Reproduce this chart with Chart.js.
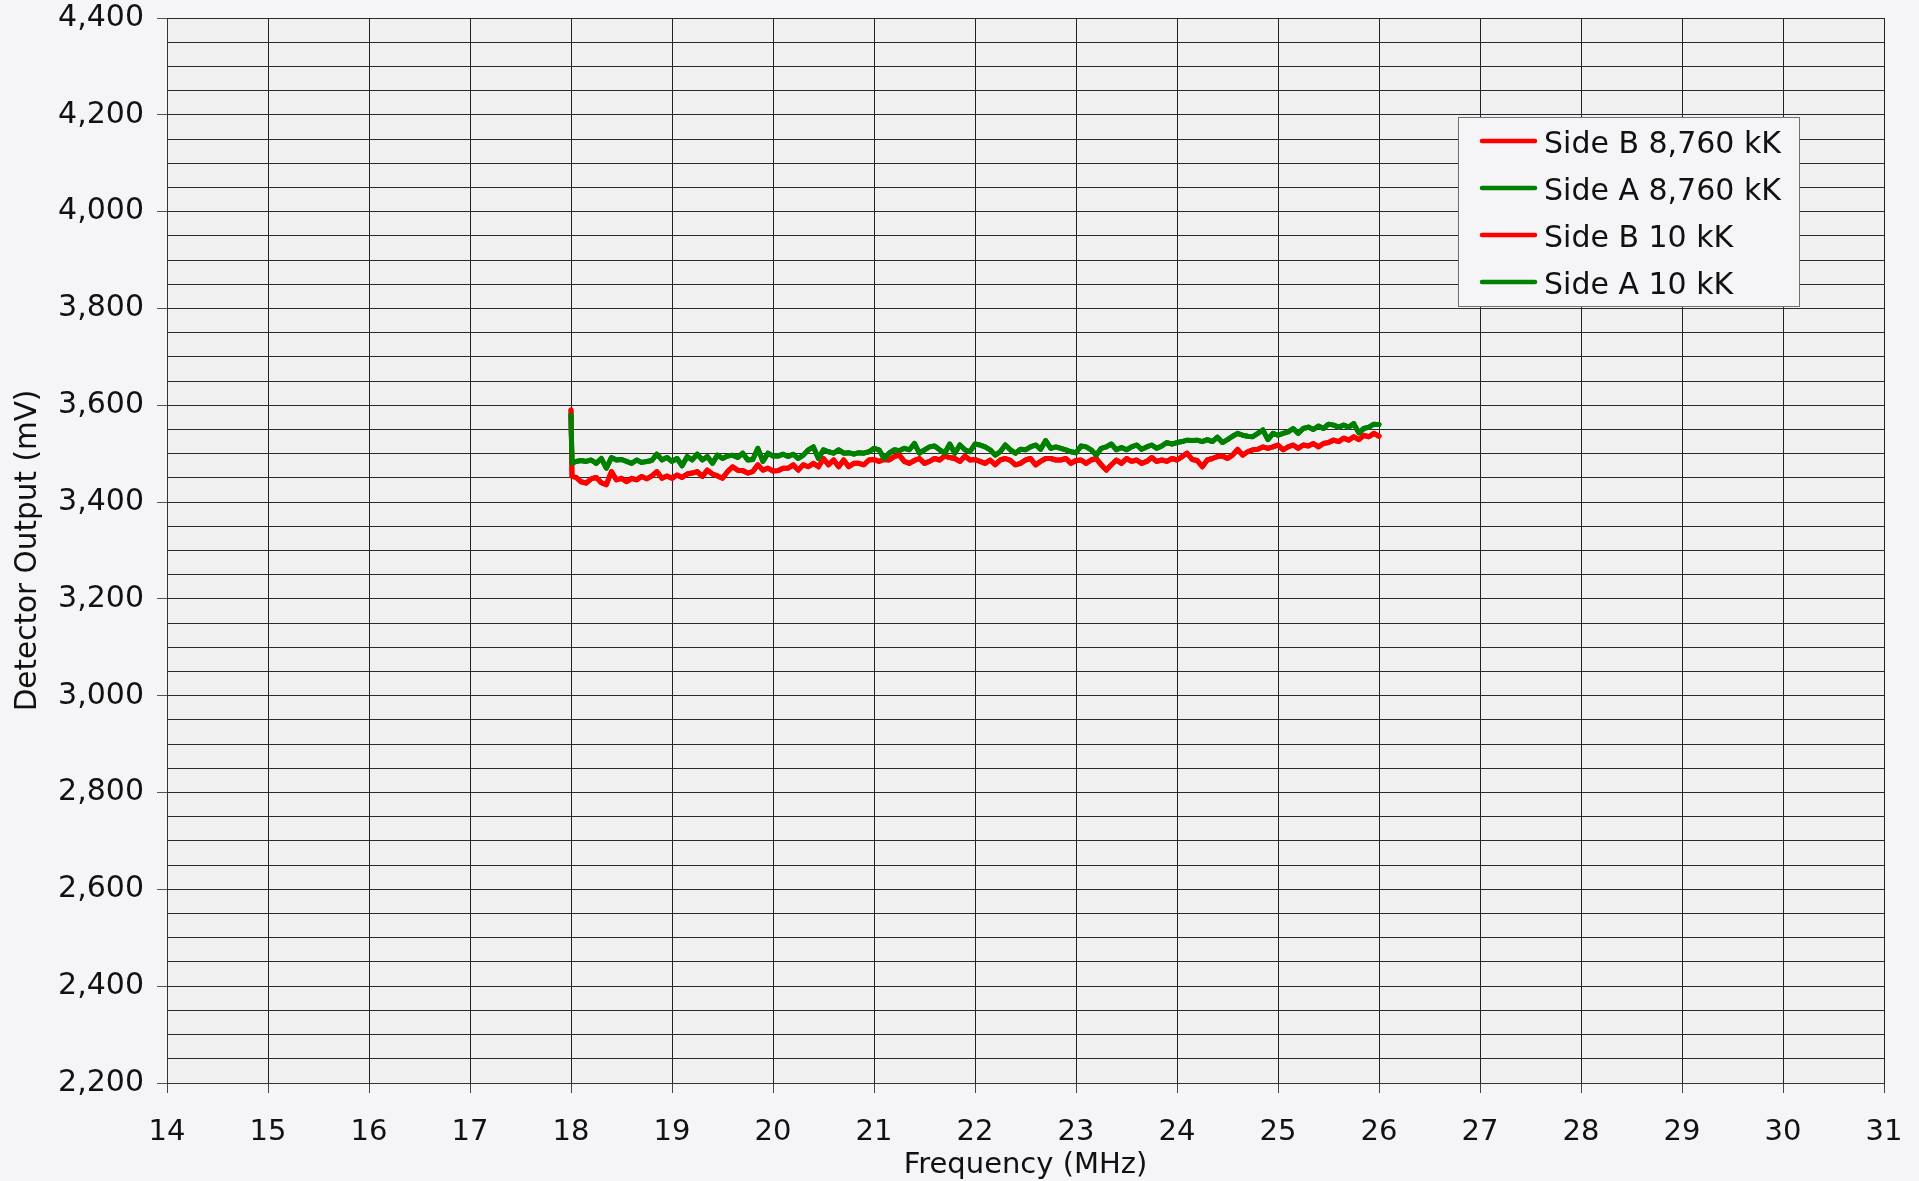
<!DOCTYPE html>
<html><head><meta charset="utf-8">
<script src="https://cdn.jsdelivr.net/npm/chart.js@4.4.1/dist/chart.umd.min.js"></script>
<style>html,body{margin:0;padding:0;background:#f5f5f7;overflow:hidden}canvas{display:block}</style>
</head><body>
<canvas id="c" width="1919" height="1181"></canvas>
<script>
// ---- data ----
const frequencyMHz = [18.00,18.01,
18.05,18.10,18.15,18.20,18.25,18.30,18.35,18.40,18.45,18.50,18.55,18.60,18.65,18.70,18.75,18.80,18.85,18.90,18.95,19.00,
19.05,19.10,19.15,19.20,19.25,19.30,19.35,19.40,19.45,19.50,19.55,19.60,19.65,19.70,19.75,19.80,19.85,19.90,19.95,20.00,
20.05,20.10,20.15,20.20,20.25,20.30,20.35,20.40,20.45,20.50,20.55,20.60,20.65,20.70,20.75,20.80,20.85,20.90,20.95,21.00,
21.05,21.10,21.15,21.20,21.25,21.30,21.35,21.40,21.45,21.50,21.55,21.60,21.65,21.70,21.75,21.80,21.85,21.90,21.95,22.00,
22.05,22.10,22.15,22.20,22.25,22.30,22.35,22.40,22.45,22.50,22.55,22.60,22.65,22.70,22.75,22.80,22.85,22.90,22.95,23.00,
23.05,23.10,23.15,23.20,23.25,23.30,23.35,23.40,23.45,23.50,23.55,23.60,23.65,23.70,23.75,23.80,23.85,23.90,23.95,24.00,
24.05,24.10,24.15,24.20,24.25,24.30,24.35,24.40,24.45,24.50,24.55,24.60,24.65,24.70,24.75,24.80,24.85,24.90,24.95,25.00,
25.05,25.10,25.15,25.20,25.25,25.30,25.35,25.40,25.45,25.50,25.55,25.60,25.65,25.70,25.75,25.80,25.85,25.90,25.95,26.00];

const sideB8760kK = [3590,3453,
3451,3442,3439,3448,3451,3440,3436,3463,3446,3449,3442,3449,3446,3453,3448,3454,3463,3449,3454,3449,
3456,3451,3458,3460,3463,3453,3466,3458,3454,3449,3463,3473,3466,3465,3460,3463,3477,3466,3470,3464,
3465,3470,3470,3477,3466,3477,3473,3480,3473,3490,3477,3487,3473,3487,3473,3480,3480,3477,3487,3488,
3484,3488,3487,3494,3497,3484,3480,3486,3490,3480,3484,3490,3487,3495,3492,3490,3484,3495,3487,3488,
3484,3480,3487,3477,3487,3490,3486,3477,3480,3487,3490,3477,3484,3490,3490,3487,3487,3490,3480,3486,
3487,3480,3487,3490,3477,3466,3477,3487,3480,3490,3484,3487,3480,3484,3492,3484,3487,3484,3490,3487,
3494,3501,3488,3486,3473,3487,3490,3494,3495,3490,3497,3509,3497,3504,3508,3509,3514,3511,3514,3518,
3508,3514,3518,3511,3518,3516,3521,3514,3521,3523,3528,3525,3532,3528,3535,3529,3538,3535,3542,3536];

const sideA8760kK = [3580,3480,
3484,3486,3484,3487,3480,3490,3470,3492,3487,3488,3484,3480,3487,3482,3484,3486,3499,3487,3492,3484,
3490,3475,3494,3487,3499,3487,3494,3480,3497,3490,3495,3497,3492,3501,3487,3488,3511,3484,3501,3495,
3495,3499,3494,3499,3490,3497,3508,3514,3490,3508,3504,3501,3508,3501,3502,3499,3502,3501,3504,3511,
3508,3490,3501,3508,3506,3511,3508,3521,3501,3508,3514,3516,3508,3501,3520,3501,3518,3508,3504,3520,
3518,3514,3508,3497,3504,3518,3508,3501,3509,3508,3514,3518,3509,3527,3511,3514,3511,3508,3504,3502,
3516,3514,3508,3497,3511,3514,3520,3508,3513,3508,3514,3518,3509,3514,3518,3511,3516,3523,3520,3523,
3525,3528,3527,3528,3525,3529,3525,3534,3523,3529,3536,3542,3538,3536,3535,3542,3549,3529,3542,3538,
3542,3545,3552,3542,3552,3555,3550,3557,3552,3561,3559,3555,3559,3555,3562,3543,3552,3555,3561,3560];

// the 10 kK traces lie underneath the 8,760 kK traces in the picture
const sideB10kK = sideB8760kK;
const sideA10kK = sideA8760kK;

const seriesLabels = ['Side B 8,760 kK','Side A 8,760 kK','Side B 10 kK','Side A 10 kK'];
const xTickValues = [14,15,16,17,18,19,20,21,22,23,24,25,26,27,28,29,30,31];
const xTickLabels = ['14','15','16','17','18','19','20','21','22','23','24','25','26','27','28','29','30','31'];
const yTickValues = [2200,2400,2600,2800,3000,3200,3400,3600,3800,4000,4200,4400];
const yTickLabels = ['2,200','2,400','2,600','2,800','3,000','3,200','3,400','3,600','3,800','4,000','4,200','4,400'];
const xTitle = 'Frequency (MHz)';
const yTitle = 'Detector Output (mV)';

// ---- chart ----
const RED = '#ff0000', GREEN = '#008000';
const pts = arr => frequencyMHz.map((f, i) => ({x: f, y: arr[i]}));

Chart.defaults.font.family = '"DejaVu Sans", Verdana, sans-serif';
Chart.defaults.color = '#111111';

const bgPlugin = {
  id: 'bg',
  beforeDraw(chart) {
    const {ctx, chartArea: a} = chart;
    ctx.save();
    ctx.fillStyle = '#f5f5f7';
    ctx.fillRect(0, 0, chart.width, chart.height);
    ctx.fillStyle = '#f0f0f0';
    ctx.fillRect(a.left, a.top, a.right - a.left, a.bottom - a.top);
    ctx.restore();
  }
};

const legendPlugin = {
  id: 'boxLegend',
  afterDraw(chart) {
    const ctx = chart.ctx;
    const x0 = 1458, y0 = 117, w = 341, h = 189;
    ctx.save();
    ctx.fillStyle = '#f5f5f7';
    ctx.fillRect(x0, y0, w, h);
    ctx.strokeStyle = '#707070';
    ctx.lineWidth = 1;
    ctx.strokeRect(x0 + 0.5, y0 + 0.5, w, h);
    chart.data.datasets.forEach((ds, i) => {
      const yc = 141 + i * 47;
      ctx.strokeStyle = ds.borderColor;
      ctx.lineWidth = 4.5;
      ctx.lineCap = 'round';
      ctx.beginPath();
      ctx.moveTo(1482, yc);
      ctx.lineTo(1535, yc);
      ctx.stroke();
      ctx.fillStyle = '#111111';
      ctx.font = '30px "DejaVu Sans"';
      ctx.textBaseline = 'alphabetic';
      ctx.textAlign = 'left';
      ctx.fillText(ds.label, 1544, yc + 12);
    });
    ctx.restore();
  }
};

const lineStyle = {
  borderWidth: 5, pointRadius: 0, pointHoverRadius: 0, tension: 0,
  borderJoinStyle: 'round', borderCapStyle: 'round', fill: false
};

new Chart(document.getElementById('c'), {
  type: 'line',
  data: {
    datasets: [
      {label: seriesLabels[0], data: pts(sideB8760kK), borderColor: RED, backgroundColor: RED, order: 3, ...lineStyle},
      {label: seriesLabels[1], data: pts(sideA8760kK), borderColor: GREEN, backgroundColor: GREEN, order: 2, ...lineStyle},
      {label: seriesLabels[2], data: pts(sideB10kK), borderColor: RED, backgroundColor: RED, order: 1, ...lineStyle},
      {label: seriesLabels[3], data: pts(sideA10kK), borderColor: GREEN, backgroundColor: GREEN, order: 0, ...lineStyle}
    ]
  },
  options: {
    responsive: false,
    animation: false,
    events: [],
    layout: {padding: {top: 18, right: 35, left: 0, bottom: 0}},
    plugins: {legend: {display: false}, tooltip: {enabled: false}},
    scales: {
      x: {
        type: 'linear',
        min: xTickValues[0], max: xTickValues[xTickValues.length - 1],
        afterFit(s) { s.height = 98; },
        afterBuildTicks(s) { s.ticks = xTickValues.map(v => ({value: v})); },
        ticks: {
          stepSize: 1, autoSkip: false, maxRotation: 0, padding: 0,
          font: {size: 29, lineHeight: 2.72}, color: '#111111',
          callback: v => { const i = xTickValues.indexOf(v); return i >= 0 ? xTickLabels[i] : ''; }
        },
        grid: {color: '#222222', lineWidth: 1, tickLength: 10, tickColor: '#444444', drawTicks: true},
        border: {display: true, color: '#333333', width: 1},
        title: {display: true, text: xTitle, font: {size: 29, lineHeight: 1.0}, color: '#111111', padding: {top: 0, bottom: 1.5}}
      },
      y: {
        type: 'linear',
        min: 2200, max: 4400,
        afterFit(s) { s.width = 167; },
        ticks: {
          stepSize: 50, autoSkip: false, maxTicksLimit: 200, padding: 13,
          font: {size: 30, lineHeight: 0.3}, color: '#111111',
          callback: v => { const i = yTickValues.indexOf(v); return i >= 0 ? yTickLabels[i] : ''; }
        },
        grid: {
          color: '#2a2a2a', lineWidth: 1, tickLength: 10,
          tickColor: c => (c.tick && yTickValues.indexOf(c.tick.value) >= 0) ? '#555555' : 'rgba(0,0,0,0)'
        },
        border: {display: true, color: '#333333', width: 1},
        title: {display: true, text: yTitle, font: {size: 29.5, lineHeight: 1.2}, color: '#111111', padding: {top: 11, bottom: 0}}
      }
    }
  },
  plugins: [bgPlugin, legendPlugin]
});
</script>
</body></html>
